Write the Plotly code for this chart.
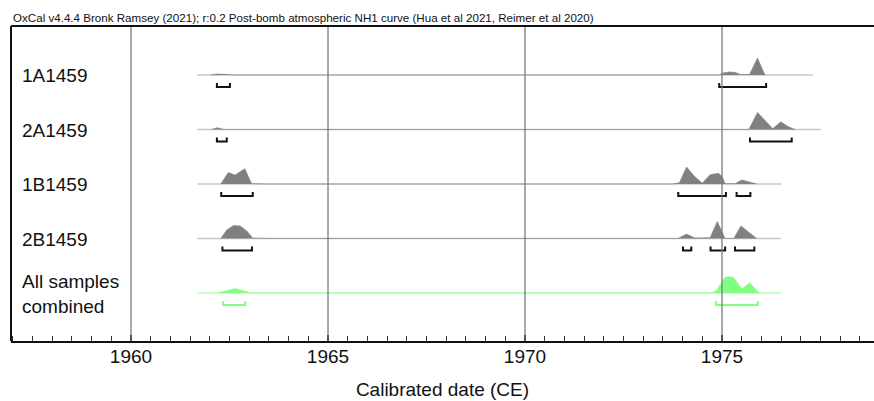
import plotly.graph_objects as go

# ---------------- data ----------------
title_text = ("OxCal v4.4.4 Bronk Ramsey (2021); r:0.2 Post-bomb atmospheric NH1 curve "
              "(Hua et al 2021, Reimer et al 2020)")
axis_title = "Calibrated date (CE)"

samples = ["1A1459", "2A1459", "1B1459", "2B1459", "All samples<br>combined"]
is_combined = [False, False, False, False, True]

# extent of each row's baseline (calendar years)
line_start = [1961.68, 1961.68, 1961.68, 1961.68, 1961.68]
line_end = [1977.31, 1977.51, 1976.50, 1976.50, 1976.50]

# posterior probability (relative height) vs calendar year
dist_1A_x = [1962.02, 1962.20, 1962.36, 1962.60, 1974.92, 1975.05, 1975.20, 1975.35,
             1975.46, 1975.70, 1975.90, 1976.09]
dist_1A_p = [0, 0.06, 0.04, 0, 0, 0.13, 0.18, 0.14, 0.03, 0.03, 1.0, 0]

dist_2A_x = [1962.04, 1962.19, 1962.36, 1975.68, 1975.90, 1976.29, 1976.49, 1976.70, 1976.86]
dist_2A_p = [0, 0.11, 0, 0, 1.0, 0.05, 0.45, 0.14, 0]

dist_1B_x = [1962.28, 1962.47, 1962.64, 1962.89, 1963.06, 1963.40,
             1973.75, 1973.92, 1974.10, 1974.30, 1974.50, 1974.70, 1974.91, 1975.00,
             1975.08, 1975.33, 1975.50, 1975.70, 1975.88]
dist_1B_p = [0, 0.68, 0.53, 0.90, 0.02, 0,
             0, 0.08, 1.0, 0.45, 0.05, 0.55, 0.63, 0.45, 0.02, 0.02, 0.24, 0.10, 0]

dist_2B_x = [1962.28, 1962.43, 1962.60, 1962.77, 1962.94, 1963.09, 1963.50,
             1973.88, 1974.10, 1974.31, 1974.70, 1974.88, 1975.08, 1975.30, 1975.48, 1975.88]
dist_2B_p = [0, 0.50, 0.76, 0.74, 0.44, 0.02, 0,
             0, 0.26, 0.03, 0.05, 1.0, 0.0, 0.0, 0.74, 0]

dist_all_x = [1962.20, 1962.64, 1963.05, 1974.70, 1974.85, 1975.08, 1975.18, 1975.29,
              1975.50, 1975.71, 1975.92, 1976.00]
dist_all_p = [0, 0.26, 0, 0, 0.10, 0.93, 0.95, 0.93, 0.24, 0.60, 0.05, 0]

dist_x = [dist_1A_x, dist_2A_x, dist_1B_x, dist_2B_x, dist_all_x]
dist_p = [dist_1A_p, dist_2A_p, dist_1B_p, dist_2B_p, dist_all_p]

# 95.4% highest posterior density ranges
ranges = [
    [(1962.18, 1962.51), (1974.93, 1976.12)],
    [(1962.18, 1962.43), (1975.71, 1976.77)],
    [(1962.29, 1963.09), (1973.89, 1975.10), (1975.37, 1975.72)],
    [(1962.32, 1963.07), (1974.01, 1974.22), (1974.71, 1975.08), (1975.33, 1975.82)],
    [(1962.34, 1962.90), (1974.85, 1975.91)],
]

tick_vals = [1960, 1965, 1970, 1975]
x_range = [1956.954, 1978.858]

# ---------------- styling ----------------
FONT = "Liberation Sans, Arial, sans-serif"
GREY_FILL = "#808080"
GREY_LINE = "#c8c8c8"
GREEN_FILL = "#80ff80"
GREEN_LINE = "#b8ffb8"
ROW0 = 49.0      # px from plot top for first baseline
ROW_STEP = 54.5  # px between rows
PEAK_H = 17.0    # px height of a normalised peak
BR_OFF = 12.0    # bracket offset below baseline
BR_TICK = 4.0

fig = go.Figure()
shapes = []
annotations = []

for i, name in enumerate(samples):
    base = ROW0 + ROW_STEP * i
    green = is_combined[i]
    # baseline
    fig.add_trace(go.Scatter(x=[line_start[i], line_end[i]], y=[base, base], mode="lines",
                             line=dict(color=GREEN_LINE if green else GREY_LINE, width=1.3),
                             hoverinfo="skip", showlegend=False))
    # distribution
    xs = [dist_x[i][0]] + list(dist_x[i]) + [dist_x[i][-1]]
    ys = [base] + [base - PEAK_H * p for p in dist_p[i]] + [base]
    col = GREEN_FILL if green else GREY_FILL
    fig.add_trace(go.Scatter(x=xs, y=ys, mode="lines", fill="toself", fillcolor=col,
                             line=dict(color=col, width=0.6),
                             hoverinfo="skip", showlegend=False))
    # ranges (brackets)
    bcol = GREEN_FILL if green else "#111111"
    by = base + BR_OFF
    for (a, b) in ranges[i]:
        fig.add_trace(go.Scatter(x=[a, a, b, b], y=[by - BR_TICK, by, by, by - BR_TICK],
                                 mode="lines", line=dict(color=bcol, width=2),
                                 hoverinfo="skip", showlegend=False))
    # label
    annotations.append(dict(x=0, xref="paper", xshift=9, y=base + 0.5, yref="y",
                            text=name, showarrow=False, xanchor="left", yanchor="middle",
                            align="left", font=dict(family=FONT, size=19, color="#111111")))

# vertical grid lines drawn above data
for v in tick_vals:
    shapes.append(dict(type="line", xref="x", yref="paper", x0=v, x1=v, y0=0, y1=1,
                       line=dict(color="#7a7a7a", width=1.3), layer="above"))

# frame: top and left
shapes.append(dict(type="line", xref="paper", yref="paper", x0=0, x1=1, y0=1, y1=1,
                   line=dict(color="#111111", width=2), layer="above"))
shapes.append(dict(type="line", xref="paper", yref="paper", x0=0, x1=0, y0=0, y1=1,
                   line=dict(color="#111111", width=2), layer="above"))

# top caption
annotations.append(dict(x=0, xref="paper", y=1, yref="paper", yshift=0, text=title_text,
                        showarrow=False, xanchor="left", yanchor="bottom",
                        font=dict(family=FONT, size=11.6, color="#111111")))

fig.update_layout(
    width=874, height=401,
    margin=dict(l=11, r=0, t=26, b=60),
    paper_bgcolor="white", plot_bgcolor="white",
    shapes=shapes, annotations=annotations,
    showlegend=False,
    xaxis=dict(
        range=x_range, tickvals=tick_vals, ticktext=[str(v) for v in tick_vals],
        ticks="inside", ticklen=6, tickwidth=1.5, tickcolor="#111111",
        ticklabelstandoff=-3,
        showgrid=False, zeroline=False,
        showline=True, linecolor="#111111", linewidth=2,
        tickfont=dict(family=FONT, size=19, color="#111111"),
        minor=dict(dtick=0.5, tick0=1960, ticks="inside", ticklen=5, tickwidth=1,
                   tickcolor="#333333", showgrid=False),
        title=dict(text=axis_title, standoff=17,
                   font=dict(family=FONT, size=19, color="#111111")),
        fixedrange=True,
    ),
    yaxis=dict(range=[315, 0], visible=False, fixedrange=True),
)

fig.write_html("out.html",
               config={"displayModeBar": False},
               post_script="document.body.style.margin='0px';"
                           "document.body.style.overflow='hidden';")
